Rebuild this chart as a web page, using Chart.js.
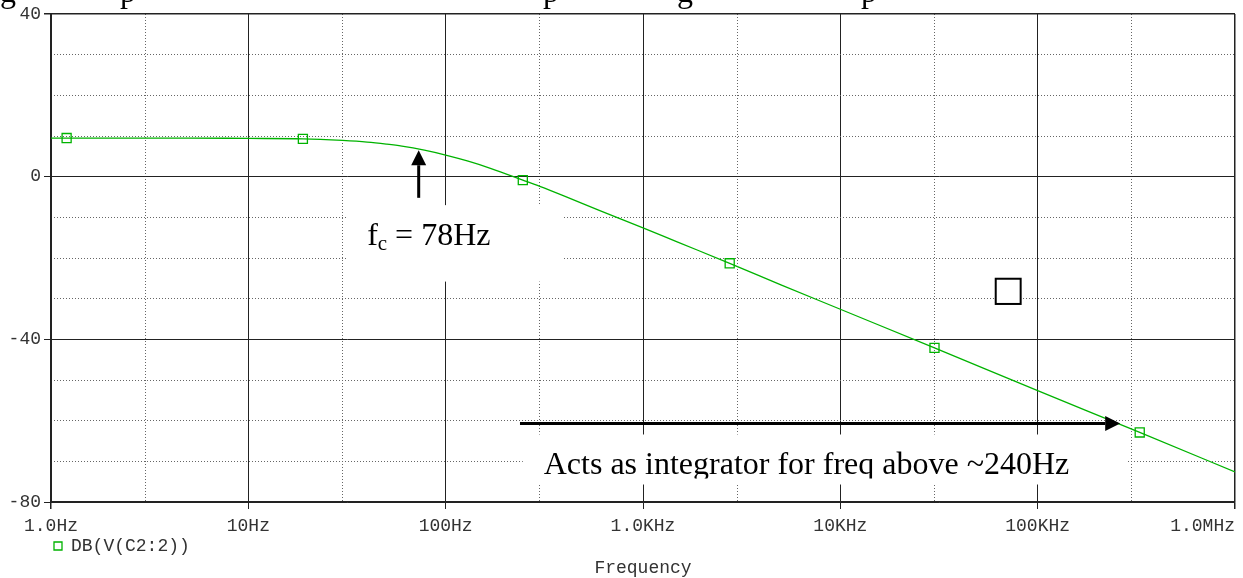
<!DOCTYPE html>
<html>
<head>
<meta charset="utf-8">
<script src="https://cdn.jsdelivr.net/npm/chart.js@4.4.0/dist/chart.umd.min.js"></script>
<style>
  html, body { margin: 0; padding: 0; background: #fff; }
  #wrap { width: 1243px; height: 578px; }
</style>
</head>
<body>
<div id="wrap"><canvas id="c" width="1243" height="578"></canvas></div>
<script>
// Sweep points (Hz) and gain of V(C2:2) in dB
const freqs  = [1, 1.2, 2, 5, 10, 18.9, 30, 40, 50, 60, 78, 100, 130, 170, 246, 300, 400, 600,
                1000, 1500, 2750, 5000, 10000, 30000, 100000, 329000, 1000000];
const gainDb = [9.5, 9.5, 9.5, 9.5, 9.4, 9.3, 8.9, 8.5, 8.0, 7.5, 6.5, 5.3, 3.8, 2.0, -0.85, -2.4, -4.8, -8.3,
                -12.6, -16.1, -21.3, -26.6, -32.6, -42.1, -52.6, -62.9, -72.6];
// points that carry the square trace marker
const markerFreqs = [1.2, 18.9, 246, 2750, 30000, 329000];

const xMajorTicks = [1, 10, 100, 1e3, 1e4, 1e5, 1e6];
const xMinorTicks = [3, 30, 300, 3e3, 3e4, 3e5];
const xTickLabels = ['1.0Hz', '10Hz', '100Hz', '1.0KHz', '10KHz', '100KHz', '1.0MHz'];
const yMajorTicks = [-80, -40, 0, 40];
const yMinorTicks = [-70, -60, -50, -30, -20, -10, 10, 20, 30];

const MONO  = "'Courier New', 'Liberation Mono', monospace";
const SERIF = "'Times New Roman', 'Liberation Serif', serif";
const GREEN = '#00b300';
const INK   = '#333';

// annotations, in data units (Hz, dB)
const fcArrow  = { f: 73, fromDb: -5.2, toDb: 6.5 };
const fcBox    = { f0: 31.6, f1: 392, db0: -7.0, db1: -25.8 };
const fcLabel  = { f: 40, db: -16.8 };
const intArrow = { f0: 238, f1: 262000, db: -60.7 };
const intBox   = { f0: 246, f1: 282500, db0: -63.4, db1: -75.7 };
const intLabel = { f: 314, db: -73.2, clipDb: -74.2, text: 'Acts as integrator for freq above ~240Hz' };
const stray    = { f0: 61300, f1: 82000, db0: -25.1, db1: -31.3 };

function arrow(ctx, x1, y1, x2, y2) {
  const a = Math.atan2(y2 - y1, x2 - x1), len = 15, half = 7.5;
  const bx = x2 - len * Math.cos(a), by = y2 - len * Math.sin(a);
  ctx.beginPath();
  ctx.moveTo(x1, y1);
  ctx.lineTo(bx, by);
  ctx.stroke();
  ctx.beginPath();
  ctx.moveTo(x2, y2);
  ctx.lineTo(bx + half * Math.sin(a), by - half * Math.cos(a));
  ctx.lineTo(bx - half * Math.sin(a), by + half * Math.cos(a));
  ctx.closePath();
  ctx.fill();
}

const notes = {
  id: 'notes',
  beforeDatasetsDraw(chart) {
    const { ctx } = chart;
    const X = v => chart.scales.x.getPixelForValue(v);
    const Y = v => chart.scales.y.getPixelForValue(v);
    ctx.save();
    ctx.fillStyle = '#fff';
    for (const b of [fcBox, intBox]) {
      ctx.fillRect(X(b.f0), Y(b.db0), X(b.f1) - X(b.f0), Y(b.db1) - Y(b.db0));
    }
    // stray empty square
    ctx.strokeStyle = '#000';
    ctx.lineWidth = 2;
    ctx.fillRect(X(stray.f0), Y(stray.db0), X(stray.f1) - X(stray.f0), Y(stray.db1) - Y(stray.db0));
    ctx.strokeRect(X(stray.f0), Y(stray.db0), X(stray.f1) - X(stray.f0), Y(stray.db1) - Y(stray.db0));

    ctx.fillStyle = '#000';
    ctx.textBaseline = 'alphabetic';
    // f_c = 78Hz
    let x = X(fcLabel.f);
    const y = Y(fcLabel.db);
    ctx.font = '32px ' + SERIF;
    ctx.fillText('f', x, y);
    x += ctx.measureText('f').width;
    ctx.font = '21px ' + SERIF;
    ctx.fillText('c', x, y + 5);
    x += ctx.measureText('c').width;
    ctx.font = '32px ' + SERIF;
    ctx.fillText(' = 78Hz', x, y);

    // integrator note, clipped at its box like the original
    ctx.save();
    ctx.beginPath();
    ctx.rect(X(intBox.f0), Y(intBox.db0), X(intBox.f1) - X(intBox.f0), Y(intLabel.clipDb) - Y(intBox.db0));
    ctx.clip();
    ctx.fillText(intLabel.text, X(intLabel.f), Y(intLabel.db));
    ctx.restore();
    ctx.restore();
  },
  afterDatasetsDraw(chart) {
    const { ctx } = chart;
    const X = v => chart.scales.x.getPixelForValue(v);
    const Y = v => chart.scales.y.getPixelForValue(v);
    ctx.save();
    ctx.strokeStyle = '#000';
    ctx.fillStyle = '#000';
    ctx.lineWidth = 3;
    arrow(ctx, X(fcArrow.f), Y(fcArrow.fromDb), X(fcArrow.f), Y(fcArrow.toDb));
    arrow(ctx, X(intArrow.f0), Y(intArrow.db), X(intArrow.f1), Y(intArrow.db));
    ctx.restore();
  },
  afterDraw(chart) {
    // descenders of the page text line above the figure
    const { ctx } = chart;
    ctx.save();
    ctx.fillStyle = '#000';
    ctx.font = '32px ' + SERIF;
    ctx.textBaseline = 'alphabetic';
    [['g', 0], ['p', 120], ['p', 543], ['g', 677], ['p', 861]].forEach(([t, x]) => ctx.fillText(t, x, 2));
    ctx.restore();
  }
};

const isEdge = (ctx, a, b) => ctx.tick && (ctx.tick.value === a || ctx.tick.value === b);

new Chart(document.getElementById('c'), {
  type: 'line',
  data: {
    labels: freqs,
    datasets: [{
      label: 'DB(V(C2:2))',
      data: freqs.map((f, i) => ({ x: f, y: gainDb[i] })),
      xAxisID: 'x',
      yAxisID: 'y',
      borderColor: GREEN,
      backgroundColor: 'rgba(0,0,0,0)',
      borderWidth: 1.3,
      cubicInterpolationMode: 'monotone',
      pointStyle: 'rect',
      pointRadius: c => markerFreqs.includes(freqs[c.dataIndex]) ? 6.4 : 0,
      pointBorderWidth: 1.3,
      pointBorderColor: GREEN,
      pointBackgroundColor: 'rgba(0,0,0,0)'
    }]
  },
  options: {
    responsive: false,
    animation: false,
    devicePixelRatio: 1,
    layout: { padding: { top: 14, right: 8, left: 0, bottom: 0 } },
    scales: {
      x: {
        type: 'logarithmic', min: 1, max: 1e6, position: 'bottom',
        afterBuildTicks: s => { s.ticks = xMajorTicks.map(v => ({ value: v })); },
        afterFit: s => { s.paddingLeft = 0; s.paddingRight = 0; s.height = 32; },
        ticks: {
          autoSkip: false, maxRotation: 0, minRotation: 0, padding: 6,
          font: { family: MONO, size: 18 }, color: INK,
          // last label sits inside the plot edge, as in the original
          callback: (v, i) => i === xTickLabels.length - 1 ? xTickLabels[i] + '\u00a0'.repeat(6) : xTickLabels[i]
        },
        grid: { color: '#222', lineWidth: c => isEdge(c, 1, 1e6) ? 1.5 : 1, tickLength: 7, tickColor: '#222' },
        border: { color: '#222', width: 1.5 }
      },
      xMinor: {
        type: 'logarithmic', min: 1, max: 1e6, position: 'bottom',
        afterBuildTicks: s => { s.ticks = xMinorTicks.map(v => ({ value: v })); },
        ticks: { display: false },
        grid: { color: '#666', lineWidth: 1, drawTicks: false },
        border: { display: false, dash: [1, 2] }
      },
      y: {
        min: -80, max: 40, position: 'left',
        afterBuildTicks: s => { s.ticks = yMajorTicks.map(v => ({ value: v })); },
        afterFit: s => { s.width = 51; },
        ticks: { padding: 3, font: { family: MONO, size: 18 }, color: INK, callback: v => String(v) },
        grid: { color: '#222', lineWidth: c => isEdge(c, 40, 40) ? 1.5 : 1, tickLength: 7, tickColor: '#222' },
        border: { color: '#222', width: 2 }
      },
      yMinor: {
        min: -80, max: 40, position: 'left',
        afterBuildTicks: s => { s.ticks = yMinorTicks.map(v => ({ value: v })); },
        afterFit: s => { s.width = 0; },
        ticks: { display: false },
        grid: { color: '#666', lineWidth: 1, drawTicks: false },
        border: { display: false, dash: [1, 2] }
      }
    },
    plugins: {
      legend: {
        position: 'bottom', align: 'start', fullSize: false,
        labels: { boxWidth: 8, boxHeight: 8, padding: 3, color: INK, font: { family: MONO, size: 18, lineHeight: 1 } }
      },
      title: {
        display: true, text: 'Frequency', position: 'bottom', fullSize: false,
        color: INK, font: { family: MONO, size: 18, weight: 'normal', lineHeight: 1 }, padding: { top: -6, bottom: 1 }
      },
      tooltip: { enabled: false }
    }
  },
  plugins: [notes]
});
</script>
</body>
</html>
